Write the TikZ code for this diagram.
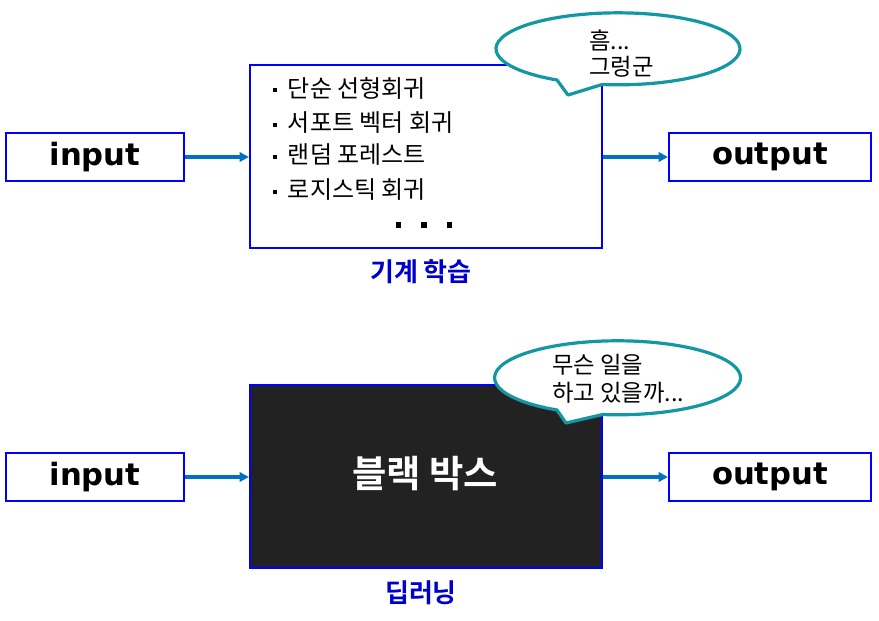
\documentclass[tikz,border=0pt]{standalone}
\usepackage{fontspec}
\setmainfont{DejaVu Sans}
\newfontfamily\kr{Noto Sans CJK KR}
\newfontfamily\krb{Noto Sans CJK KR Bold}
\usetikzlibrary{arrows.meta,shapes.geometric}
\definecolor{boxblue}{HTML}{0000FF}
\definecolor{arrblue}{HTML}{0070C0}
\definecolor{teal}{HTML}{1398A3}
\definecolor{lblblue}{HTML}{0000CC}
\definecolor{dark}{HTML}{222222}
\tikzset{
  iobox/.style={draw=boxblue,line width=1.6pt,fill=white,minimum height=36pt,inner sep=0pt,font=\fontsize{23}{27}\selectfont\bfseries},
  mainbox/.style={draw=boxblue,line width=1.6pt,minimum width=264pt,minimum height=137pt,inner sep=0pt},
  conn/.style={draw=arrblue,line width=2.3pt,-{Triangle[length=7pt,width=7pt]}},
  bubble/.style={draw=teal,line width=2.4pt,fill=white,line join=round},
  item/.style={anchor=west,inner sep=0pt,font=\kr\fontsize{18}{21}\selectfont},
  bubtext/.style={anchor=west,inner sep=0pt,font=\kr\fontsize{17.5}{21}\selectfont},
  lbl/.style={inner sep=0pt,text=lblblue,font=\krb\fontsize{19.5}{23}\selectfont}
}
\newcommand{\sqb}{\raisebox{4pt}{\rule{3pt}{3pt}}}
\begin{document}
\begin{tikzpicture}[x=0.75pt,y=-0.75pt]
\useasboundingbox (0,0) rectangle (879,621);
% ---------- top row ----------
\node[iobox,minimum width=133.5pt] (in1) at (95,157) {input};
\node[mainbox] (ml) at (426,156.5) {};
\node[iobox,minimum width=151.5pt] (out1) at (770,157) {output};
\draw[conn] (in1.east) -- (in1.east -| ml.west);
\draw[conn] (ml.east |- out1.west) -- (out1.west);
\node[item] (i1) at (273,88) {\sqb\hspace{8pt}단순 선형회귀};
\node[item] (i2) at (273,123) {\sqb\hspace{8pt}서포트 벡터 회귀};
\node[item] (i3) at (273,155) {\sqb\hspace{8pt}랜덤 포레스트};
\node[item] (i4) at (273,190) {\sqb\hspace{8pt}로지스틱 회귀};
\node[inner sep=0pt] (dots) at (424,225) {\rule{4pt}{4pt}\hspace{15pt}\rule{4pt}{4pt}\hspace{15pt}\rule{4pt}{4pt}};
\node[lbl] (l1) at (421,272) {기계 학습};
% callout top
\coordinate (t1tip) at (568,95);
\path[bubble] (557,80) arc[start angle=120,end angle=457.5,x radius=122,y radius=36] -- (t1tip) -- cycle;
\node[bubtext] (b1a) at (589,40) {흠...};
\node[bubtext] (b1b) at (589,67) {그렁군};
% ---------- bottom row ----------
\node[iobox,minimum width=133.5pt] (in2) at (95,477) {input};
\node[mainbox,fill=dark] (dl) at (426,476.5) {};
\node[iobox,minimum width=151.5pt] (out2) at (770,477) {output};
\draw[conn] (in2.east) -- (in2.east -| dl.west);
\draw[conn] (dl.east |- out2.west) -- (out2.west);
\node[inner sep=0pt,text=white,font=\krb\fontsize{28}{32}\selectfont] (bb) at (425,474) {블랙 박스};
\node[lbl] (l2) at (421,593) {딥러닝};
% callout bottom
\coordinate (t2tip) at (566,423);
\path[bubble] (557,410) arc[start angle=119.5,end angle=457,x radius=123,y radius=37] -- (t2tip) -- cycle;
\node[bubtext] (b2a) at (552,365) {무슨 일을};
\node[bubtext] (b2b) at (552,393) {하고 있을까...};
\end{tikzpicture}
\end{document}
